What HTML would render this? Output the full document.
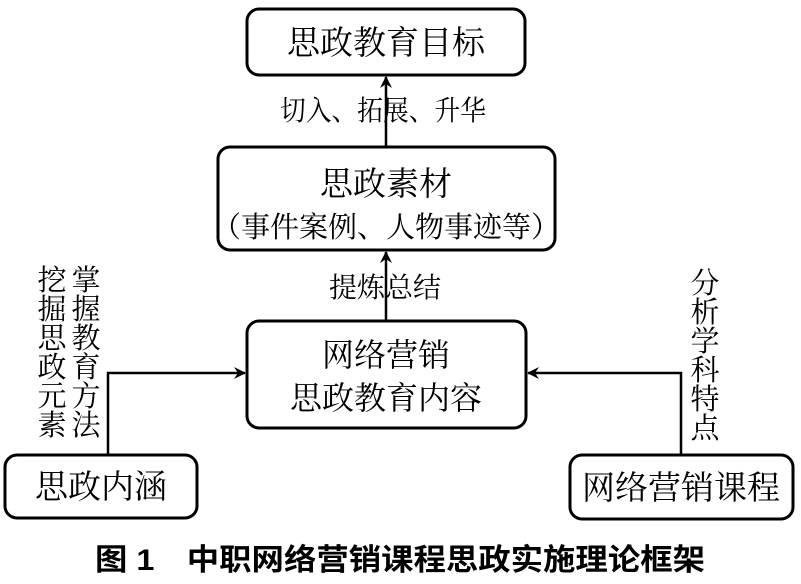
<!DOCTYPE html>
<html><head><meta charset="utf-8"><style>
html,body{margin:0;padding:0;background:#fff;width:801px;height:584px;overflow:hidden}
svg text{font-family:"Liberation Serif","Noto Serif CJK SC","Noto Sans CJK SC",serif;fill:#000}
</style></head><body>
<svg width="801" height="584" viewBox="0 0 801 584" xmlns="http://www.w3.org/2000/svg">
<defs><marker id="a" markerWidth="12" markerHeight="12" refX="11" refY="6" orient="auto" markerUnits="userSpaceOnUse"><path d="M0,0 L12,6 L0,12 L4,6 Z" fill="#000"/></marker></defs>
<g fill="none" stroke="#000" stroke-width="3">
<rect x="247" y="9" width="278" height="66" rx="12"/>
<rect x="218" y="147" width="337" height="103" rx="12"/>
<rect x="247" y="321" width="279" height="107" rx="12"/>
<rect x="5" y="455" width="192" height="63" rx="12"/>
<rect x="570" y="455" width="223" height="64" rx="12"/>
</g>
<g stroke="#000" stroke-width="2.5" fill="none">
<line x1="386" y1="147" x2="386" y2="77" marker-end="url(#a)"/>
<line x1="386" y1="321" x2="386" y2="252" marker-end="url(#a)"/>
<polyline points="108,455 108,373 245,373" marker-end="url(#a)"/>
<polyline points="681,455 681,373 528,373" marker-end="url(#a)"/>
</g>
<g font-size="33" text-anchor="middle">
<text x="386" y="54">思政教育目标</text>
<text x="386" y="195">思政素材</text>
<text x="386" y="237" font-size="29">（事件案例、人物事迹等）</text>
<text x="386" y="366" font-size="32">网络营销</text>
<text x="386" y="409" font-size="32">思政教育内容</text>
<text x="101" y="498">思政内涵</text>
<text x="681" y="499">网络营销课程</text>
</g>
<g font-size="28" text-anchor="middle">
<text x="383" y="120" textLength="206" lengthAdjust="spacingAndGlyphs">切入、拓展、升华</text>
<text x="385" y="297">提炼总结</text>
</g>
<g font-size="29" text-anchor="middle">
<text x="52" y="290">挖</text><text x="52" y="319">掘</text><text x="52" y="348">思</text><text x="52" y="377">政</text><text x="52" y="406">元</text><text x="52" y="435">素</text>
<text x="86" y="290">掌</text><text x="86" y="319">握</text><text x="86" y="348">教</text><text x="86" y="377">育</text><text x="86" y="406">方</text><text x="86" y="435">法</text>
<text x="705" y="293">分</text><text x="705" y="322">析</text><text x="705" y="351">学</text><text x="705" y="380">科</text><text x="705" y="409">特</text><text x="705" y="438">点</text>
</g>
<text x="400" y="570" font-size="30" font-weight="bold" text-anchor="middle" textLength="610" lengthAdjust="spacingAndGlyphs" style="font-family:'Liberation Sans','Noto Sans CJK SC',sans-serif">图 1　中职网络营销课程思政实施理论框架</text>
</svg>
</body></html>
